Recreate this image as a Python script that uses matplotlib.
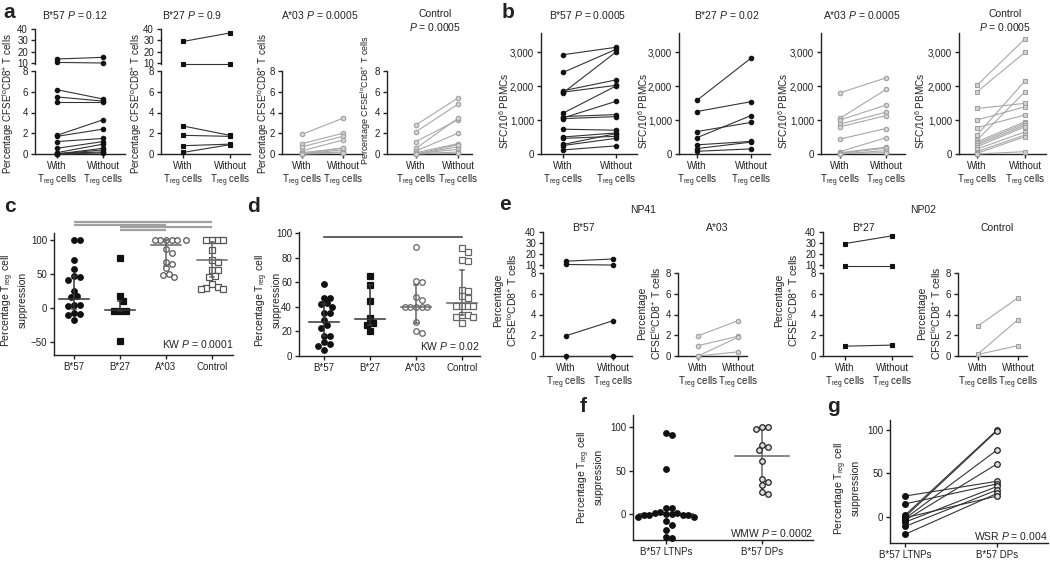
import matplotlib.pyplot as plt

plt.rcParams['font.family'] = ['Liberation Sans', 'DejaVu Sans']
plt.rcParams['mathtext.fontset'] = 'custom'
plt.rcParams['mathtext.rm'] = 'Liberation Sans'
plt.rcParams['mathtext.it'] = 'Liberation Sans:italic'
plt.rcParams['mathtext.bf'] = 'Liberation Sans:bold'
plt.rcParams['text.color'] = '#222222'
plt.rcParams['xtick.color'] = '#222222'
plt.rcParams['ytick.color'] = '#222222'

# ---- panel a: % CFSE-lo CD8+ T cells, with / without Treg cells
a1_pre = [13.5, 10.5, 6.2, 5.5, 5.0, 1.8, 1.7, 1.2, 0.55, 0.13, 0.0, 0.0, 0.05, 0.0]
a1_post = [15.0, 10.0, 5.3, 5.1, 5.0, 3.3, 2.4, 1.5, 1.2, 0.95, 0.55, 0.4, 0.2, 0.1]
a2_pre = [29.0, 9.5, 2.7, 1.8, 0.8, 0.15]
a2_post = [36.5, 9.5, 1.8, 1.7, 0.95, 0.9]
a3_pre = [1.9, 1.0, 0.7, 0.3, 0.13, 0.0, 0.05, 0.0, 0.0]
a3_post = [3.45, 2.0, 1.7, 1.35, 0.55, 0.4, 0.2, 0.1, 0.6]
a4_pre = [2.8, 2.15, 1.2, 0.55, 0.3, 0.13, 0.0, 0.05, 0.0, 0.1, 0.0]
a4_post = [5.4, 4.8, 3.3, 3.45, 2.0, 1.0, 0.7, 0.45, 0.2, 0.05, 0.9]
a_titles = ['B*57 $P$ = 0.12', 'B*27 $P$ = 0.9', 'A*03 $P$ = 0.0005', 'Control\n$P$ = 0.0005']

# ---- panel b: SFC / 10^6 PBMCs
b1_pre = [2920, 2400, 1860, 1820, 1800, 1200, 1100, 1060, 1040, 730, 500, 460, 280, 250, 120]
b1_post = [3140, 3080, 2180, 2020, 3000, 2000, 1160, 1550, 1100, 700, 620, 520, 600, 460, 240]
b2_pre = [1580, 1250, 660, 480, 270, 160, 80]
b2_post = [2820, 1540, 930, 1130, 370, 350, 150]
b3_pre = [1800, 1050, 1000, 880, 800, 440, 70, 40, 20, 0, 10]
b3_post = [2240, 1900, 1440, 1230, 1130, 750, 480, 200, 170, 100, 40]
b4_pre = [2020, 1830, 1340, 1000, 775, 560, 410, 360, 310, 265, 215, 145, 70, 20, 0]
b4_post = [3390, 2990, 1490, 1390, 1150, 2150, 1830, 950, 900, 850, 800, 650, 560, 510, 70]
b_titles = ['B*57 $P$ = 0.0005', 'B*27 $P$ = 0.02', 'A*03 $P$ = 0.0005', 'Control\n$P$ = 0.0005']

# ---- panel c / d: % Treg cell suppression by group
groups = ['B*57', 'B*27', 'A*03', 'Control']
c_b57 = [100, 100, 70, 57, 47, 46, 41, 25, 17, 16, 4, 4, 3, -8, -9, -10, -18]
c_b27 = [73, 18, 10, -4, -5, -5, -49]
c_a03 = [100, 100, 100, 100, 100, 100, 86, 80, 68, 65, 58, 50, 48, 45]
c_ctrl = [100, 100, 100, 100, 85, 70, 68, 55, 55, 47, 45, 35, 31, 30, 28, 28]
c_median = [13, -3, 93, 70]
c_q1 = [-2, -5, 62, 45]
c_q3 = [47, 10, 100, 97]
c_sig = [(0, 3), (0, 2), (1, 3), (1, 2)]

d_b57 = [59, 47, 47, 43, 42, 40, 35, 35, 29, 25, 23, 16, 16, 11, 10, 8, 5]
d_b27 = [65, 58, 45, 31, 27, 25, 20]
d_a03 = [88.5, 61, 60, 48, 46, 40, 40, 40, 40, 40, 28, 20, 19]
d_ctrl = [88, 85, 78, 77, 54, 53, 49, 47, 41, 41, 41, 41, 33, 33, 32, 32, 27]
d_median = [27.5, 30.5, 40, 43]
d_q1 = [16, 25, 27, 33]
d_q3 = [42, 58, 58, 70]

# ---- panel e: single peptides
e1_pre = [13.5, 10.5, 1.95, 0.0]
e1_post = [15.5, 10.0, 3.4, 0.0]
e2_pre = [1.95, 1.0, 0.0, 0.0]
e2_post = [3.4, 1.9, 1.8, 0.4]
e3_pre = [29.5, 9.0, 0.95]
e3_post = [36.5, 9.0, 1.05]
e4_pre = [2.9, 0.2, 0.15]
e4_post = [5.6, 3.5, 1.0]

# ---- panel f / g: LTNPs vs DPs
fg_labels = ['B*57 LTNPs', 'B*57 DPs']
f_ltnp = [93, 90.5, 51.5, 7, 6.5, 2, 1.5, 1.5, 0, 0, -1, -1, -1, -1, -3, -4, -7.6, -12.6, -19, -26, -28]
f_dp = [100, 100, 98, 80, 77, 74, 61, 40.5, 37, 33, 25, 22.5]
f_median = [0, 67]
f_dp_range = [25, 100]
g_ltnp = [24, 15, 2, 0, -2, -4, -6, -11, -20, -1]
g_dp = [41, 38, 100, 99, 77, 61, 35, 31, 27, 24]

W, H = 1050, 562
fig = plt.figure(figsize=(W / 100, H / 100), dpi=100)

BLACK = dict(m='o', fc='#111111', ec='#111111', lc='#333333')
BLACK_SQ = dict(m='s', fc='#111111', ec='#111111', lc='#333333')
GREY = dict(m='o', fc='#d4d4d4', ec='#a0a0a0', lc='#a8a8a8')
GREY_SQ = dict(m='s', fc='#d4d4d4', ec='#a0a0a0', lc='#a8a8a8')

TREG = ['With\nT$_{\\mathrm{reg}}$ cells', 'Without\nT$_{\\mathrm{reg}}$ cells']
CFSE = 'Percentage CFSE$^{\\mathrm{lo}}$CD8$^{+}$ T cells'
CFSE2 = 'Percentage\nCFSE$^{\\mathrm{lo}}$CD8$^{+}$ T cells'
SUPP = 'Percentage T$_{\\mathrm{reg}}$ cell\nsuppression'


def px_axes(x0, y0, x1, y1):
    return fig.add_axes([x0 / W, 1 - y1 / H, (x1 - x0) / W, (y1 - y0) / H])


def txt(x, y, s, **kw):
    kw.setdefault('ha', 'center')
    kw.setdefault('va', 'center')
    kw.setdefault('fontsize', 7)
    fig.text(x / W, 1 - y / H, s, **kw)


def clean(ax):
    for s in ['top', 'right']:
        ax.spines[s].set_visible(False)
    for s in ['left', 'bottom']:
        ax.spines[s].set_linewidth(1.0)
        ax.spines[s].set_color('#222222')
    ax.tick_params(direction='out', length=3, width=1.0, labelsize=7, pad=2)
    ax.patch.set_alpha(0)


def make_axes(x0, y0, x1, y1, xa, xb, ylim):
    ax = px_axes(x0, y0, x1, y1)
    u = xb - xa
    ax.set_xlim((x0 - xa) / u, (x1 - xa) / u)
    ax.set_ylim(*ylim)
    clean(ax)
    return ax


def draw_pairs(ax, pre, post, st, ms=3.2):
    for a, b in zip(pre, post):
        ax.plot([0, 1], [a, b], color=st['lc'], lw=0.8, marker=st['m'], ms=ms,
                mfc=st['fc'], mec=st['ec'], mew=0.8, clip_on=False, zorder=3)


def pair_panel(x0, x1, xa, xb, pre, post, st, low, up=None, up_lim=None, xlabels=TREG):
    lo = make_axes(x0, low[0], x1, low[1], xa, xb, (0, 8))
    lo.set_yticks([0, 2, 4, 6, 8])
    lo.set_xticks([0, 1], xlabels, linespacing=1.15)
    if up is None:
        draw_pairs(lo, pre, post, st)
        return lo
    hi = make_axes(x0, up[0], x1, up[1], xa, xb, up_lim)
    hi.spines['bottom'].set_visible(False)
    hi.set_xticks([])
    hi.set_yticks([10, 20, 30, 40])
    big = [(a, b) for a, b in zip(pre, post) if a > 8.5]
    small = [(a, b) for a, b in zip(pre, post) if a <= 8.5]
    draw_pairs(hi, [p[0] for p in big], [p[1] for p in big], st)
    draw_pairs(lo, [p[0] for p in small], [p[1] for p in small], st)
    return lo


def sfc_panel(x0, x1, xa, xb, pre, post, st):
    ax = make_axes(x0, 33, x1, 154, xa, xb, (0, 3560))
    ax.set_yticks([0, 1000, 2000, 3000], ['0', '1,000', '2,000', '3,000'])
    ax.set_xticks([0, 1], TREG, linespacing=1.15)
    draw_pairs(ax, pre, post, st)
    return ax


def swarm(vals, ypx, xpx, d=5.6):
    placed, offs = [], []
    steps = [0] + [s * i * d / 2 for i in range(1, 20) for s in (1, -1)]
    for v in vals:
        y = v * ypx
        for c in steps:
            if all((c - px) ** 2 + (y - py) ** 2 >= d * d for px, py in placed):
                break
        placed.append((c, y))
        offs.append(c / xpx)
    return offs


def dot_group(ax, i, vals, st, ypx, xpx, ms=4.0):
    vals = sorted(vals, reverse=True)
    offs = swarm(vals, ypx, xpx)
    for v, o in zip(vals, offs):
        ax.plot(i + o, v, st['m'], ms=ms, mfc=st['fc'], mec=st['ec'], mew=0.9,
                clip_on=False, zorder=3)


def median_bar(ax, i, med, q1, q3, color='#333333', half=0.33):
    ax.plot([i - half, i + half], [med, med], color=color, lw=1.1, zorder=4, clip_on=False)
    ax.plot([i, i], [q1, q3], color=color, lw=1.1, zorder=4)
    ax.plot([i - 0.05, i + 0.05], [q1, q1], color=color, lw=1.1, zorder=4)
    ax.plot([i - 0.05, i + 0.05], [q3, q3], color=color, lw=1.1, zorder=4)


# ================= panel a =================
a_up = (29, 64)
a_lo = (71, 154)
a_uplim = (9.1, 40)
pair_panel(35, 125, 57, 103, a1_pre, a1_post, BLACK, a_lo, a_up, a_uplim)
pair_panel(161, 250, 183, 230, a2_pre, a2_post, BLACK_SQ, a_lo, a_up, a_uplim)
pair_panel(282, 362, 302, 343, a3_pre, a3_post, GREY, a_lo)
pair_panel(387, 472, 416, 458, a4_pre, a4_post, GREY, a_lo)
for x, t in zip([75, 192, 320, 435], a_titles):
    txt(x, 15 if '\n' not in t else 21, t, fontsize=7.5, linespacing=1.25)
for x, y, fs in zip([8, 136, 263, 366], [104, 104, 104, 100], [7, 7, 7, 6.5]):
    txt(x, y, CFSE, rotation=90, fontsize=fs)
txt(9, 12, 'a', fontsize=15, fontweight='bold')

# ================= panel b =================
sfc_panel(541, 637, 563, 616, b1_pre, b1_post, BLACK)
sfc_panel(679, 770, 697, 751, b2_pre, b2_post, BLACK)
sfc_panel(821, 905, 840, 886, b3_pre, b3_post, GREY)
sfc_panel(959, 1046, 977, 1025, b4_pre, b4_post, GREY_SQ)
for x, t in zip([588, 727, 862, 1005], b_titles):
    txt(x, 15 if '\n' not in t else 21, t, fontsize=7.5, linespacing=1.25)
for x in [504, 643, 783, 920]:
    txt(x, 111, 'SFC/10$^{6}$ PBMCs', rotation=90, fontsize=7.2)
txt(508, 12, 'b', fontsize=15, fontweight='bold')

# ================= panel c =================
ax = make_axes(54, 233, 233, 355, 74, 120, (-69, 110))
ax.set_yticks([-50, 0, 50, 100])
ax.set_xticks(range(4), groups)
c_styles = [BLACK, BLACK_SQ, dict(m='o', fc='white', ec='#555555'), dict(m='s', fc='white', ec='#555555')]
for i, (vals, st) in enumerate(zip([c_b57, c_b27, c_a03, c_ctrl], c_styles)):
    dot_group(ax, i, vals, st, 0.68, 46)
    median_bar(ax, i, c_median[i], c_q1[i], c_q3[i], color='#333333' if i < 2 else '#666666')
for k, (g0, g1) in enumerate(c_sig):
    yv = 125.5 - 3.7 * k
    ax.plot([g0, g1], [yv, yv], color='#a0a0a0', lw=1.6, clip_on=False, solid_capstyle='butt')
ax.text(3.46, -62, 'KW $P$ = 0.0001', ha='right', va='bottom', fontsize=7.5)
txt(14, 300, SUPP, rotation=90, fontsize=7.5, linespacing=1.2)
txt(10, 207, 'c', fontsize=15, fontweight='bold')

# ================= panel d =================
ax = make_axes(299, 232, 480, 356, 324, 370, (0, 101))
ax.set_yticks(range(0, 101, 20))
ax.set_xticks(range(4), groups)
d_styles = [BLACK, BLACK_SQ, dict(m='o', fc='white', ec='#666666'), dict(m='s', fc='white', ec='#666666')]
for i, (vals, st) in enumerate(zip([d_b57, d_b27, d_a03, d_ctrl], d_styles)):
    dot_group(ax, i, vals, st, 1.23, 46)
    median_bar(ax, i, d_median[i], d_q1[i], d_q3[i], color='#333333' if i < 2 else '#666666')
ax.plot([0, 3], [97, 97], color='#333333', lw=1.1, clip_on=False)
ax.text(3.39, 3, 'KW $P$ = 0.02', ha='right', va='bottom', fontsize=7.5)
txt(268, 300, SUPP, rotation=90, fontsize=7.5, linespacing=1.2)
txt(253, 207, 'd', fontsize=15, fontweight='bold')

# ================= panel e =================
e_up = (232, 268)
e_lo = (273, 356)
e_uplim = (7.3, 40)
pair_panel(543, 632, 566, 613, e1_pre, e1_post, BLACK, e_lo, e_up, e_uplim)
pair_panel(678, 747, 698, 738, e2_pre, e2_post, GREY, e_lo)
pair_panel(823, 912, 845, 892, e3_pre, e3_post, BLACK_SQ, e_lo, e_up, e_uplim)
pair_panel(958, 1027, 978, 1018, e4_pre, e4_post, GREY_SQ, e_lo)
txt(643, 210, 'NP41', fontsize=7.5)
txt(923, 210, 'NP02', fontsize=7.5)
for x, t in zip([583, 717, 863, 997], ['B*57', 'A*03', 'B*27', 'Control']):
    txt(x, 228, t, fontsize=7.5)
for x, y in zip([506, 650, 787, 930], [300, 313, 300, 313]):
    txt(x, y, CFSE2, rotation=90, fontsize=7.5, linespacing=1.2)
txt(505, 205, 'e', fontsize=15, fontweight='bold')

# ================= panel f =================
ax = make_axes(633, 415, 813, 540, 666, 762, (-30, 114))
ax.set_yticks([0, 50, 100])
ax.set_xticks([0, 1], fg_labels)
dot_group(ax, 0, f_ltnp, BLACK, 0.87, 96)
dot_group(ax, 1, f_dp, dict(m='o', fc='#dddddd', ec='#222222'), 0.87, 96)
ax.plot([-0.28, 0.28], [f_median[0]] * 2, color='#333333', lw=1.1, zorder=2)
ax.plot([0.72, 1.28], [f_median[1]] * 2, color='#666666', lw=1.1, zorder=2)
ax.plot([1, 1], f_dp_range, color='#666666', lw=1.1, zorder=2)
ax.text(1.53, -29, 'WMW $P$ = 0.0002', ha='right', va='bottom', fontsize=7.5)
txt(590, 477, SUPP, rotation=90, fontsize=7.5, linespacing=1.2)
txt(583, 407, 'f', fontsize=15, fontweight='bold')

# ================= panel g =================
ax = make_axes(890, 420, 1048, 543, 905, 997, (-30, 111.5))
ax.set_yticks([0, 50, 100])
ax.set_xticks([0, 1], fg_labels)
for a, b in zip(g_ltnp, g_dp):
    ax.plot([0, 1], [a, b], color='#333333', lw=0.8, zorder=2)
ax.plot([0] * len(g_ltnp), g_ltnp, 'o', ms=4, mfc='#111111', mec='#111111', clip_on=False, zorder=3)
ax.plot([1] * len(g_dp), g_dp, 'o', ms=4, mfc='#dddddd', mec='#222222', mew=0.9, clip_on=False, zorder=3)
ax.text(1.55, -29, 'WSR $P$ = 0.004', ha='right', va='bottom', fontsize=7.5)
txt(847, 488, SUPP, rotation=90, fontsize=7.5, linespacing=1.2)
txt(833, 407, 'g', fontsize=15, fontweight='bold')

fig.savefig('out.png', dpi=100)
